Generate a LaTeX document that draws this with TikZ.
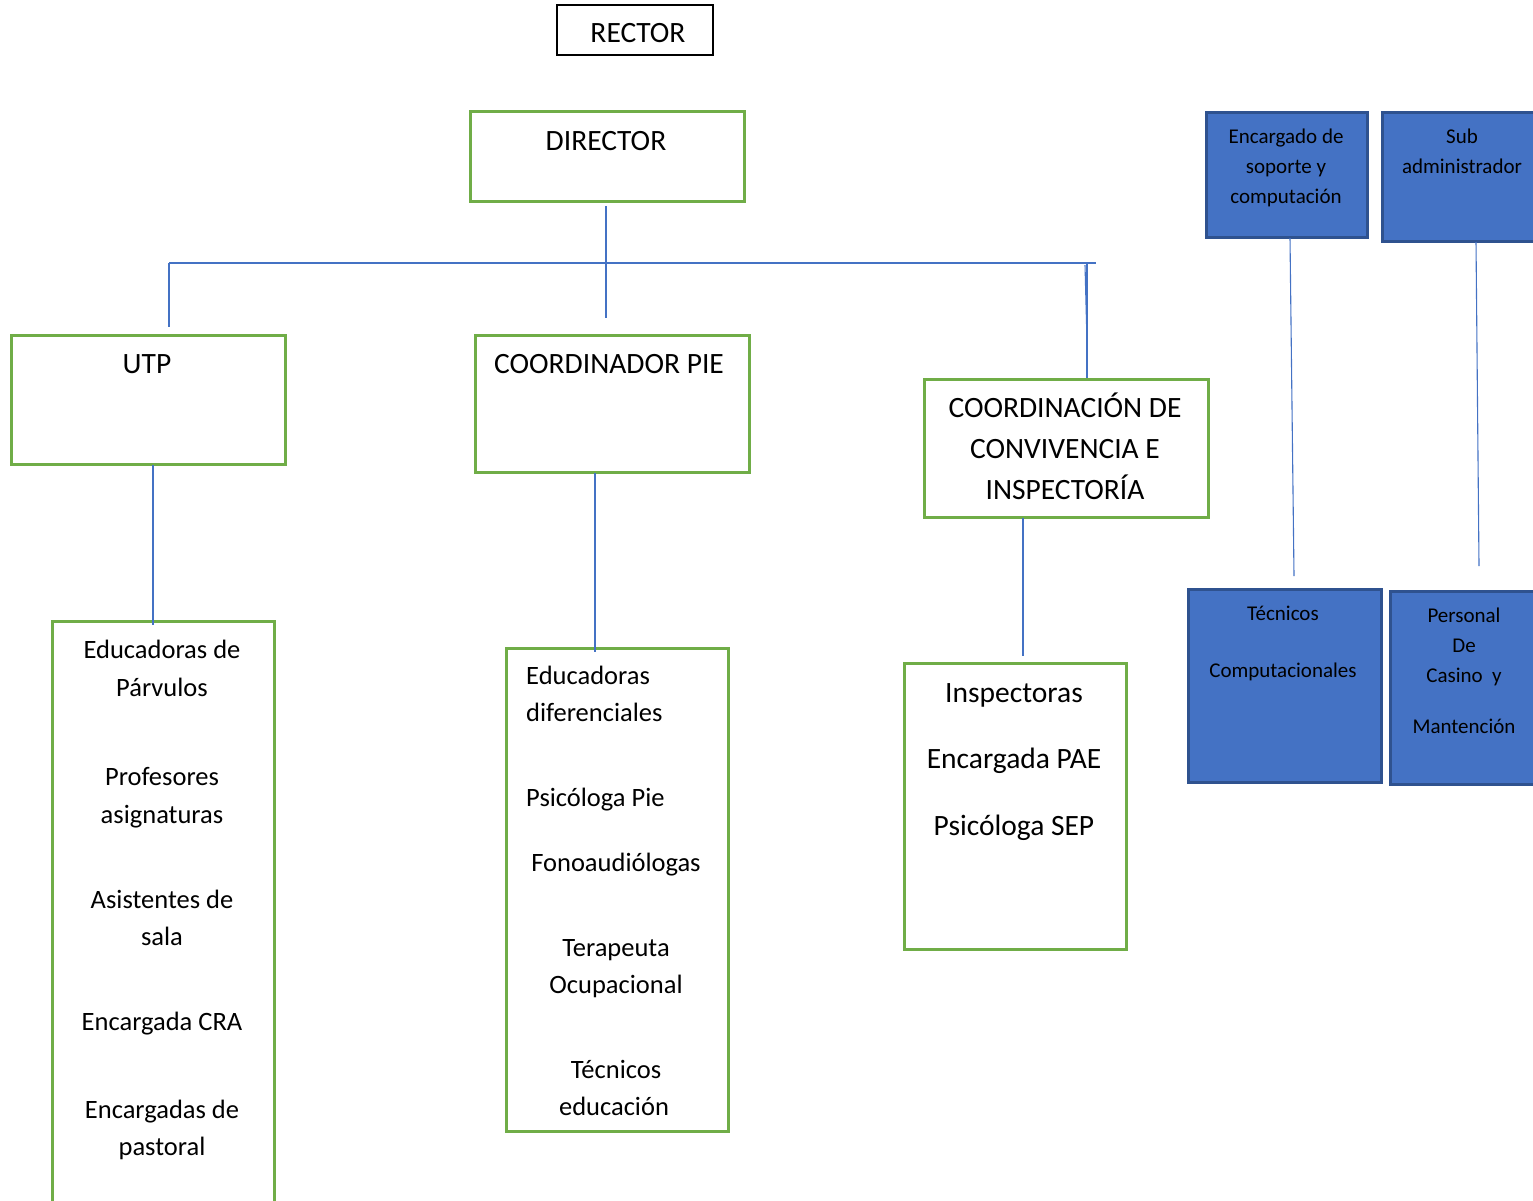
\documentclass[tikz,border=0pt]{standalone}
\usepackage{fontspec}
\setmainfont{Carlito}
\definecolor{gbox}{HTML}{70AD47}
\definecolor{bfill}{HTML}{4472C4}
\definecolor{bedge}{HTML}{2F528F}
\definecolor{lnk}{HTML}{4472C4}
\begin{document}
\begin{tikzpicture}[x=1pt,y=-1pt,
  greenbox/.style={draw=gbox,line width=2.6pt,anchor=north west,inner sep=0pt},
  bluebox/.style={draw=bedge,fill=bfill,line width=2.6pt,anchor=north west,inner sep=0pt},
  blackbox/.style={draw=black,line width=1.6pt,anchor=north west,inner sep=0pt},
  lbl/.style={anchor=base,inner sep=0pt,font=\fontsize{26.5}{38}\selectfont},
  biglbl/.style={anchor=base,inner sep=0pt,font=\fontsize{29.5}{40}\selectfont},
  lbll/.style={anchor=base west,inner sep=0pt,font=\fontsize{26.5}{38}\selectfont},
  slbl/.style={anchor=base,inner sep=0pt,font=\fontsize{21}{30}\selectfont},
  conn/.style={draw=lnk,line width=1.1pt}]
\useasboundingbox (0,0) rectangle (1533,1200);
\clip (0,0) rectangle (1533,1200);
% boxes
\node[blackbox,minimum width=156pt,minimum height=50pt] (rector) at (556,4) {};
\node[greenbox,minimum width=274pt,minimum height=90pt] (director) at (469,110) {};
\node[greenbox,minimum width=274pt,minimum height=129pt] (utp) at (10,334) {};
\node[greenbox,minimum width=274pt,minimum height=137pt] (pie) at (474,334) {};
\node[greenbox,minimum width=284pt,minimum height=138pt] (conv) at (923,378) {};
\node[greenbox,minimum width=222pt,minimum height=620pt] (educ) at (51,620) {};
\node[greenbox,minimum width=222pt,minimum height=483pt] (dif) at (505,647) {};
\node[greenbox,minimum width=222pt,minimum height=286pt] (insp) at (903,662) {};
\node[bluebox,minimum width=161pt,minimum height=125pt] (soporte) at (1205,111) {};
\node[bluebox,minimum width=170pt,minimum height=129pt] (subadm) at (1381,111) {};
\node[bluebox,minimum width=193pt,minimum height=193pt] (tecn) at (1187,588) {};
\node[bluebox,minimum width=160pt,minimum height=193pt] (casino) at (1389,590) {};
% texts
\node[biglbl] (tr) at (638,42) {RECTOR};
\node[biglbl] (td) at (606,150) {DIRECTOR};
\node[biglbl] (tu) at (147,373) {UTP};
\node[biglbl] (tp) at (609,373) {COORDINADOR PIE};
\node[biglbl] (tc1) at (1065,417) {COORDINACIÓN DE};
\node[biglbl] (tc2) at (1065,458) {CONVIVENCIA E};
\node[biglbl] (tc3) at (1065,499) {INSPECTORÍA};
\node[lbl] (e1) at (162,658) {Educadoras de};
\node[lbl] (e2) at (162,696) {Párvulos};
\node[lbl] (e3) at (162,785) {Profesores};
\node[lbl] (e4) at (162,823) {asignaturas};
\node[lbl] (e5) at (162,908) {Asistentes de};
\node[lbl] (e6) at (162,945) {sala};
\node[lbl] (e7) at (162,1030) {Encargada CRA};
\node[lbl] (e8) at (162,1118) {Encargadas de};
\node[lbl] (e9) at (162,1155) {pastoral};
\node[lbll] (d1) at (526,684) {Educadoras};
\node[lbll] (d2) at (526,721) {diferenciales};
\node[lbll] (d3) at (526,806) {Psicóloga Pie};
\node[lbl] (d4) at (616,871) {Fonoaudiólogas};
\node[lbl] (d5) at (616,956) {Terapeuta};
\node[lbl] (d6) at (616,993) {Ocupacional};
\node[lbl] (d7) at (616,1078) {Técnicos};
\node[lbl] (d8) at (614,1115) {educación};
\node[biglbl] (i1) at (1014,702) {Inspectoras};
\node[biglbl] (i2) at (1014,768) {Encargada PAE};
\node[biglbl] (i3) at (1014,835) {Psicóloga SEP};
\node[slbl] (s1) at (1286,143) {Encargado de};
\node[slbl] (s2) at (1286,173) {soporte y};
\node[slbl] (s3) at (1286,203) {computación};
\node[slbl] (a1) at (1462,143) {Sub};
\node[slbl] (a2) at (1462,173) {administrador};
\node[slbl] (t1) at (1283,620) {Técnicos};
\node[slbl] (t2) at (1283,677) {Computacionales};
\node[slbl] (c1) at (1464,622) {Personal};
\node[slbl] (c2) at (1464,652) {De};
\node[slbl] (c3) at (1464,682) {Casino\ \ y};
\node[slbl] (c4) at (1464,733) {Mantención};
% connector points
\coordinate (dtop) at (606,206);
\coordinate (dbot) at (606,318);
\coordinate (barL) at (169,263);
\coordinate (barR) at (1096,263);
\coordinate (ru1) at (1085,265);
\coordinate (ru2) at (1087,342);
\coordinate (rv) at (1087,263);
\coordinate (utop) at (169,327);
\coordinate (ubot) at (153,465);
\coordinate (pbot) at (595,473);
\coordinate (cbot) at (1023,518);
\coordinate (sbot) at (1290,238);
\coordinate (tctop) at (1294,576);
\coordinate (abot) at (1476,242);
\coordinate (cstop) at (1479,566);
% connectors
\draw[conn] (dtop) -- (dbot);
\draw[conn] (barL) -- (barR);
\draw[conn] (barL) -- (utop);
\draw[conn] (ru1) -- (ru2);
\draw[conn] (rv) -- (conv.north -| rv);
\draw[conn] (ubot) -- (ubot |- educ.north) -- ++(0,5);
\draw[conn] (pbot) -- (pbot |- dif.north) -- ++(0,5);
\draw[conn] (cbot) -- (1023,656);
\draw[conn] (sbot) -- (tctop);
\draw[conn] (abot) -- (cstop);
\end{tikzpicture}
\end{document}
